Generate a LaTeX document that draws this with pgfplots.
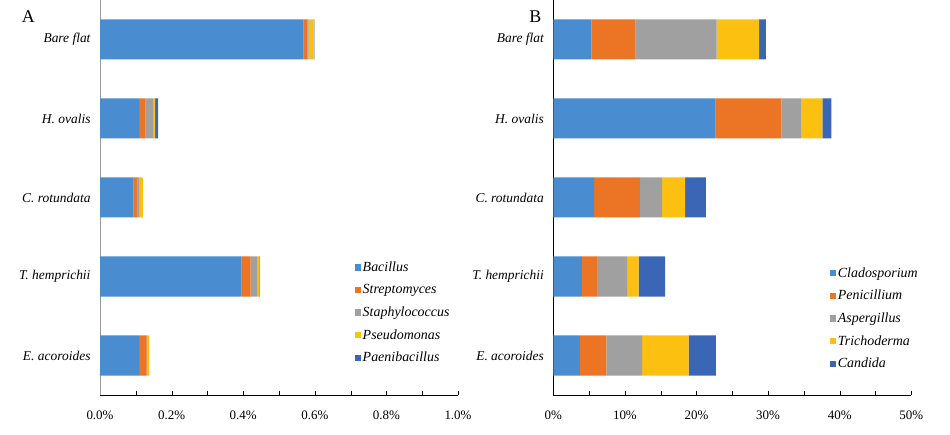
\documentclass[border=0pt]{standalone}
\usepackage{fontspec}
\setmainfont{Liberation Serif}
\usepackage{pgfplots}
\pgfplotsset{compat=1.18}
\usepackage{pgfplotstable}

\definecolor{cBlue}{HTML}{4A8CD0}
\definecolor{cOrange}{HTML}{EB7425}
\definecolor{cGray}{HTML}{A0A0A0}
\definecolor{cYellow}{HTML}{FCC010}
\definecolor{cDark}{HTML}{3A66B5}

% relative abundance (%), rows: E. acoroides .. Bare flat
\pgfplotstableread{
y Bac Str Sta Pse Pae
0 0.1095 0.0205 0.001 0.007 0.000
1 0.3955 0.025 0.0186 0.0064 0.001
2 0.094 0.011 0.006 0.009 0.000
3 0.1095 0.018 0.021 0.0056 0.008
4 0.569 0.011 0.003 0.014 0.002
}\bacteria

\pgfplotstableread{
y Cla Pen Asp Tri Can
0 3.7 3.7 5.0 6.5 3.8
1 4.0 2.1 4.2 1.6 3.7
2 5.7 6.4 3.1 3.2 2.9
3 22.66 9.21 2.69 3.02 1.26
4 5.3 6.2 11.3 5.95 0.93
}\fungi

\pgfplotsset{
  panel/.style={
    xbar stacked,
    scale only axis,
    width=358bp, height=395bp,
    anchor=south west,
    ymin=-0.5, ymax=4.5,
    bar width=40bp,
    axis lines=left,
    axis line style={-},
    ytick={0,1,2,3,4},
    yticklabels={E. acoroides, T. hemprichii, C. rotundata, H. ovalis, Bare flat},
    y tick style={draw=none},
    yticklabel style={font=\fontsize{13.5}{15}\selectfont\itshape, xshift=-4bp},
    xticklabel style={font=\fontsize{13}{15}\selectfont, yshift=-12bp},
    xtick align=inside,
    minor x tick num=1,
    major tick length=4bp, minor tick length=4bp,
    x tick style={black},
    clip=false,
    legend cell align=left,
    legend image code/.code={\fill[##1] (0bp,-3.2bp) rectangle (6.5bp,3.2bp);},
    legend style={draw=none, fill=none, anchor=north west,
      font=\fontsize{14}{16}\selectfont\itshape, row sep=8.5bp,
      inner sep=0pt, nodes={inner sep=1.5bp}},
  },
}

\begin{document}
\begin{tikzpicture}
\path[use as bounding box] (0,0) rectangle (950bp,435bp);

\begin{axis}[panel,
    at={(100bp,40bp)},
    xmin=0, xmax=1,
    xtick={0,0.2,0.4,0.6,0.8,1.0},
    xticklabels={0.0\%,0.2\%,0.4\%,0.6\%,0.8\%,1.0\%},
    y axis line style={black!40},
    legend style={at={(rel axis cs:0.711,0.341)}},
  ]
\addplot[fill=cBlue, draw=none] table[x=Bac, y=y] {\bacteria};
\addplot[fill=cOrange, draw=none] table[x=Str, y=y] {\bacteria};
\addplot[fill=cGray, draw=none] table[x=Sta, y=y] {\bacteria};
\addplot[fill=cYellow, draw=none] table[x=Pse, y=y] {\bacteria};
\addplot[fill=cDark, draw=none] table[x=Pae, y=y] {\bacteria};
\legend{Bacillus, Streptomyces, Staphylococcus, Pseudomonas, Paenibacillus}
\node[font=\fontsize{18}{20}\selectfont, anchor=center] at (rel axis cs:-0.2,0.958) {A};
\end{axis}

\begin{axis}[panel,
    at={(553.3bp,40bp)},
    xmin=0, xmax=50,
    xtick={0,10,20,30,40,50},
    xticklabels={0\%,10\%,20\%,30\%,40\%,50\%},
    legend style={at={(rel axis cs:0.772,0.327)}},
  ]
\addplot[fill=cBlue, draw=none] table[x=Cla, y=y] {\fungi};
\addplot[fill=cOrange, draw=none] table[x=Pen, y=y] {\fungi};
\addplot[fill=cGray, draw=none] table[x=Asp, y=y] {\fungi};
\addplot[fill=cYellow, draw=none] table[x=Tri, y=y] {\fungi};
\addplot[fill=cDark, draw=none] table[x=Can, y=y] {\fungi};
\legend{Cladosporium, Penicillium, Aspergillus, Trichoderma, Candida}
\node[font=\fontsize{18}{20}\selectfont, anchor=center] at (rel axis cs:-0.05,0.958) {B};
\end{axis}
\end{tikzpicture}
\end{document}
